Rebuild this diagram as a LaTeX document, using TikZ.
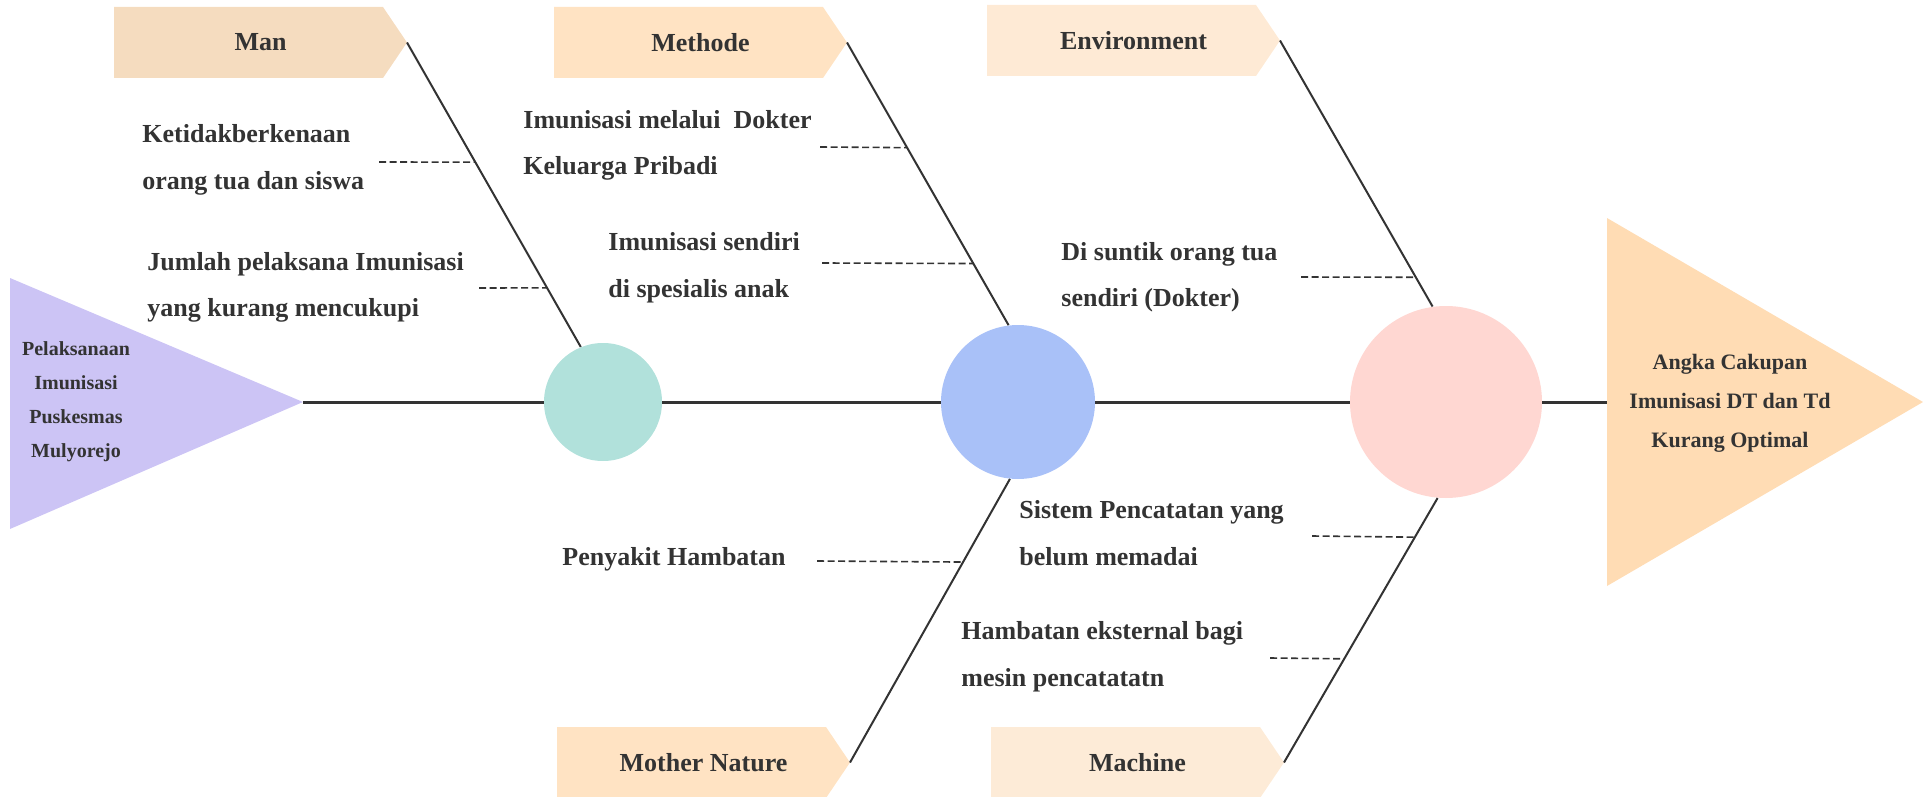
\documentclass[tikz,border=0pt]{standalone}
\usepackage{fontspec}
\setmainfont{Liberation Serif}
\usetikzlibrary{calc}

\definecolor{inkgray}{HTML}{333333}
\definecolor{manfill}{HTML}{F5DCBF}
\definecolor{methodfill}{HTML}{FFE3C3}
\definecolor{envfill}{HTML}{FEEAD5}
\definecolor{natfill}{HTML}{FFE3C3}
\definecolor{machfill}{HTML}{FDEBD7}
\definecolor{causefill}{HTML}{CCC4F5}
\definecolor{effectfill}{HTML}{FFDCB4}
\definecolor{tealfill}{HTML}{B1E1DB}
\definecolor{bluefill}{HTML}{A9C1F8}
\definecolor{pinkfill}{HTML}{FFD7D2}

\tikzset{
  bonetext/.style={anchor=west, align=left, inner sep=0pt, text=inkgray,
    font=\fontsize{13}{23.25}\selectfont\bfseries},
  headtext/.style={inner sep=0pt, text=inkgray, font=\fontsize{13}{16}\selectfont\bfseries},
  causetext/.style={align=center, inner sep=0pt, text=inkgray,
    font=\fontsize{10}{17}\selectfont\bfseries},
  effecttext/.style={align=center, inner sep=0pt, text=inkgray,
    font=\fontsize{11}{19.5}\selectfont\bfseries},
  hub/.style={circle, inner sep=0pt},
  bone/.style={draw=inkgray, line width=1pt},
  spine/.style={draw=inkgray, line width=1.5pt},
  dashbone/.style={draw=inkgray, line width=0.8pt, dash pattern=on 3.5pt off 1.75pt}
}

\begin{document}
\begin{tikzpicture}[x=0.5pt,y=-0.5pt]
  \useasboundingbox (0,0) rectangle (1923,797);

  % category tags
  \foreach \x/\y/\c/\t/\n in {114/7/manfill/Man/man, 554/7/methodfill/Methode/method,
      987/5/envfill/Environment/env, 557/727/natfill/Mother Nature/nat,
      991/727/machfill/Machine/mach}{
    \fill[\c] (\x,\y) -- ++(269,0) -- ++(24,35.5) -- ++(-24,35.5) -- ++(-269,0) -- cycle;
    \node[headtext] (\n) at (\x+146.5,\y+35.5) {\t};
    \coordinate (\n-tip) at (\x+293,\y+35.5);
  }

  % head and tail
  \fill[causefill] (10,278) -- (303,402) -- (10,529) -- cycle;
  \coordinate (causetip) at (303,402);
  \node[causetext] (cause) at (76,402) {Pelaksanaan\\Imunisasi\\Puskesmas\\Mulyorejo};
  \fill[effectfill] (1607,218) -- (1923,402) -- (1607,586) -- cycle;
  \coordinate (effectbase) at (1607,402);
  \node[effecttext] (effect) at (1730,403) {Angka Cakupan\\Imunisasi DT dan Td\\Kurang Optimal};

  \node[hub, fill=tealfill, minimum size=59pt] (teal) at (603,402) {};
  \node[hub, fill=bluefill, minimum size=77pt] (blue) at (1018,402) {};
  \node[hub, fill=pinkfill, minimum size=96pt] (pink) at (1446,402) {};
  \draw[spine] (causetip) -- (teal) -- (blue) -- (pink) -- (effectbase);

  % bones
  \draw[bone] (man-tip) -- (teal.112);
  \draw[bone] (method-tip) -- (blue.97);
  \draw[bone] (env-tip) -- (pink.98);
  \draw[bone] (nat-tip) -- (blue.264);
  \draw[bone] (mach-tip) -- (pink.265);

  % causes
  \node[bonetext] (ketidak) at (142,160) {Ketidakberkenaan\\orang tua dan siswa};
  \node[bonetext] (jumlah) at (147,287.5) {Jumlah pelaksana Imunisasi\\yang kurang mencukupi};
  \node[bonetext] (melalui) at (523,145.5) {Imunisasi melalui\ \ Dokter\\Keluarga Pribadi};
  \node[bonetext] (sendiri) at (608,267.5) {Imunisasi sendiri\\di spesialis anak};
  \node[bonetext] (suntik) at (1061,277) {Di suntik orang tua\\sendiri (Dokter)};
  \node[bonetext] (penyakit) at (562,559) {Penyakit Hambatan};
  \node[bonetext] (sistem) at (1019,533) {Sistem Pencatatan yang\\belum memadai};
  \node[bonetext] (hambatan) at (961,656.5) {Hambatan eksternal bagi\\mesin pencatatatn};

  \coordinate (ketidak-d) at (379,162);
  \coordinate (jumlah-d) at (479,288);
  \coordinate (melalui-d) at (820,147);
  \coordinate (sendiri-d) at (822,263);
  \coordinate (suntik-d) at (1301,277);
  \coordinate (penyakit-d) at (817,561);
  \coordinate (sistem-d) at (1312,536);
  \coordinate (hambatan-d) at (1270,658);
  \draw[dashbone] (ketidak-d) -- ($(man-tip)!0.393!(teal.112)$);
  \draw[dashbone] (jumlah-d) -- ($(man-tip)!0.806!(teal.112)$);
  \draw[dashbone] (melalui-d) -- ($(method-tip)!0.372!(blue.97)$);
  \draw[dashbone] (sendiri-d) -- ($(method-tip)!0.782!(blue.97)$);
  \draw[dashbone] (suntik-d) -- ($(env-tip)!0.890!(pink.98)$);
  \draw[dashbone] (penyakit-d) -- ($(nat-tip)!0.707!(blue.264)$);
  \draw[dashbone] (sistem-d) -- ($(mach-tip)!0.852!(pink.265)$);
  \draw[dashbone] (hambatan-d) -- ($(mach-tip)!0.392!(pink.265)$);
\end{tikzpicture}
\end{document}
